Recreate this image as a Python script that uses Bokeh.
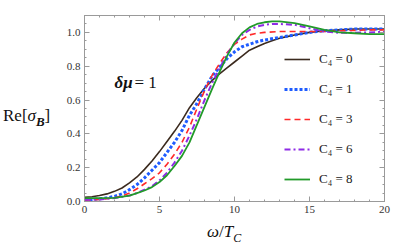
from bokeh.plotting import figure
from bokeh.models import Range1d, LinearAxis, FixedTicker, Label, Legend, LegendItem, Div
from bokeh.layouts import column, row
from bokeh.embed import file_html
from bokeh.resources import INLINE

# ---------------- data ----------------
x_c0 = [0, 0.5, 1, 1.5, 2, 2.5, 3, 3.5, 4, 4.5, 5, 5.5, 6, 6.5, 7, 7.5, 8, 8.5, 9, 9.5, 10, 10.5, 11, 11.5, 12, 12.5, 13, 13.5, 14, 15, 16, 17, 18, 19, 20]
y_c0 = [0.025, 0.028, 0.035, 0.045, 0.06, 0.08, 0.11, 0.145, 0.19, 0.24, 0.295, 0.355, 0.415, 0.48, 0.555, 0.615, 0.67, 0.715, 0.755, 0.79, 0.825, 0.86, 0.895, 0.915, 0.935, 0.95, 0.965, 0.975, 0.985, 1.0, 1.01, 1.015, 1.02, 1.02, 1.02]

x_c1 = [0, 0.5, 1, 1.5, 2, 2.5, 3, 3.5, 4, 4.5, 5, 5.5, 6, 6.5, 7, 7.5, 8, 8.5, 9, 9.5, 10, 10.5, 11, 11.5, 12, 13, 14, 15, 16, 17, 18, 19, 20]
y_c1 = [0.01, 0.012, 0.016, 0.022, 0.03, 0.045, 0.07, 0.1, 0.14, 0.185, 0.23, 0.29, 0.35, 0.42, 0.51, 0.58, 0.665, 0.74, 0.795, 0.845, 0.885, 0.915, 0.93, 0.945, 0.955, 0.97, 0.985, 1.0, 1.01, 1.015, 1.02, 1.02, 1.02]

x_c3 = [0, 1, 2, 2.5, 3, 3.5, 4, 4.5, 5, 5.5, 6, 6.5, 7, 7.5, 8, 8.5, 9, 9.5, 10, 10.5, 11, 11.5, 12, 13, 14, 15, 16, 17, 18, 19, 20]
y_c3 = [0.008, 0.012, 0.022, 0.033, 0.05, 0.075, 0.105, 0.135, 0.17, 0.22, 0.28, 0.35, 0.44, 0.55, 0.655, 0.745, 0.815, 0.88, 0.93, 0.96, 0.985, 0.995, 1.0, 1.005, 1.005, 1.005, 1.005, 1.01, 1.012, 1.015, 1.015]

x_c6 = [0, 1, 2, 3, 3.5, 4, 4.5, 5, 5.5, 6, 6.5, 7, 7.5, 8, 8.5, 9, 9.5, 10, 10.5, 11, 11.5, 12, 12.5, 13, 14, 15, 16, 17, 18, 19, 20]
y_c6 = [0.01, 0.012, 0.02, 0.035, 0.05, 0.07, 0.09, 0.125, 0.17, 0.23, 0.3, 0.39, 0.49, 0.6, 0.7, 0.785, 0.87, 0.935, 0.985, 1.015, 1.035, 1.045, 1.05, 1.05, 1.045, 1.025, 1.005, 0.998, 0.998, 1.0, 1.003]

x_c8 = [0, 1, 2, 3, 3.5, 4, 4.5, 5, 5.5, 6, 6.5, 7, 7.5, 8, 8.5, 9, 9.5, 10, 10.5, 11, 11.5, 12, 12.5, 13, 14, 15, 16, 17, 18, 19, 20]
y_c8 = [0.02, 0.02, 0.022, 0.035, 0.05, 0.065, 0.085, 0.115, 0.155, 0.21, 0.27, 0.35, 0.455, 0.56, 0.665, 0.765, 0.86, 0.94, 0.995, 1.03, 1.05, 1.06, 1.065, 1.065, 1.055, 1.035, 1.015, 1.0, 0.995, 0.99, 0.99]

labels = ["C\u2084 = 0", "C\u2084 = 1", "C\u2084 = 3", "C\u2084 = 6", "C\u2084 = 8"]
x_ticks = [0, 5, 10, 15, 20]
y_ticks = [0.0, 0.2, 0.4, 0.6, 0.8, 1.0]

SERIF = "Liberation Serif"
GRAY = "#9a9a9a"

p = figure(width=338, height=223, output_backend="svg", toolbar_location=None,
           x_range=Range1d(0, 20), y_range=Range1d(0, 1.1),
           min_border_left=28, min_border_right=10, min_border_top=15, min_border_bottom=22,
           background_fill_color="white", border_fill_color="white", margin=0)
p.grid.visible = False
p.outline_line_color = GRAY
p.outline_line_width = 1

xt = FixedTicker(ticks=x_ticks, minor_ticks=[i for i in range(0, 21)])
yt = FixedTicker(ticks=y_ticks, minor_ticks=[round(0.05 * i, 2) for i in range(0, 23)])

def style_axis(ax, show_labels):
    ax.axis_line_color = GRAY
    ax.major_tick_line_color = GRAY
    ax.minor_tick_line_color = GRAY
    ax.major_tick_in = 5
    ax.major_tick_out = 0
    ax.minor_tick_in = 2
    ax.minor_tick_out = 0
    ax.major_label_text_font = SERIF
    ax.major_label_text_font_size = "11px"
    ax.major_label_text_color = "#333333"
    ax.major_label_standoff = 4 if show_labels else 0

p.xaxis.ticker = xt
p.yaxis.ticker = yt
style_axis(p.xaxis[0], True)
style_axis(p.yaxis[0], True)
p.yaxis[0].major_label_overrides = {v: f"{v:.1f}" for v in y_ticks}
p.xaxis[0].major_label_overrides = {v: str(v) for v in x_ticks}

top = LinearAxis(ticker=xt)
right = LinearAxis(ticker=yt)
style_axis(top, False)
style_axis(right, False)
top.major_label_overrides = {v: "" for v in x_ticks}
right.major_label_overrides = {v: "" for v in y_ticks}
p.add_layout(top, "above")
p.add_layout(right, "right")

r0 = p.line(x_c0, y_c0, line_color="#3b2a1e", line_width=1.6)
r1 = p.line(x_c1, y_c1, line_color="#1f5cff", line_width=3, line_dash="3 2")
r3 = p.line(x_c3, y_c3, line_color="#ff2a2a", line_width=1.6, line_dash="6 4")
r6 = p.line(x_c6, y_c6, line_color="#8e2be6", line_width=2, line_dash="6 3 2 3")
r8 = p.line(x_c8, y_c8, line_color="#229a2a", line_width=1.8)

legend = Legend(items=[LegendItem(label=l, renderers=[r]) for l, r in zip(labels, [r0, r1, r3, r6, r8])],
                location=(200, 12), orientation="vertical",
                glyph_width=26, glyph_height=20, label_height=20, spacing=10,
                label_standoff=9, padding=0, margin=0,
                border_line_color=None, background_fill_alpha=0,
                label_text_font=SERIF, label_text_font_size="13px", label_text_color="#222222")
p.add_layout(legend)

# delta mu = 1 (inside the frame)
p.add_layout(Label(x=2.0, y=0.704, text="\u03b4\u03bc", text_font=SERIF, text_font_size="17px",
                   text_font_style="bold italic", text_color="#111111", text_baseline="alphabetic"))
p.add_layout(Label(x=3.33, y=0.704, text="= 1", text_font=SERIF, text_font_size="17px",
                   text_color="#111111", text_baseline="alphabetic"))

ylab = Div(width=56, height=223, margin=0, text=(
    '<div style="font-family:\'Liberation Serif\'; font-size:17px; line-height:20px; '
    'padding-top:106px; padding-left:3px; white-space:nowrap; color:#111;">'
    'Re[<i>\u03c3</i><span style="position:relative; top:5px; font-size:13px; '
    'font-weight:bold; font-style:italic;">B</span>]</div>'))

xlab = Div(width=394, height=27, margin=0, text=(
    '<div style="font-family:\'Liberation Serif\'; font-size:17px; line-height:17px; '
    'padding-top:0px; padding-left:207px; white-space:nowrap; color:#111;">'
    '<i>\u03c9</i>/<i>T</i><span style="position:relative; top:5px; font-size:12px; '
    'font-style:italic;">C</span></div>'))

layout = column(row(ylab, p, spacing=0, margin=0), xlab, spacing=0, margin=0)

open("out.html", "w").write(file_html(layout, INLINE))
